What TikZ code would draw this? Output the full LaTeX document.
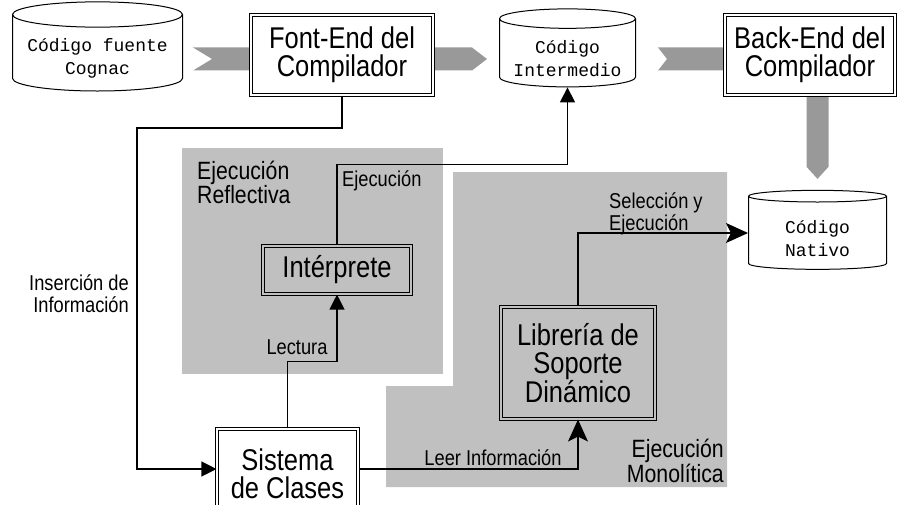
\documentclass[tikz,border=0pt]{standalone}
\usepackage{fontspec}
\setmainfont{Liberation Sans}[FakeStretch=0.85]
\newfontfamily\codefont{Liberation Mono}
\usetikzlibrary{
  arrows.meta,
  shapes.geometric,
  calc
}
\definecolor{zonegray}{RGB}{192,192,192}
\definecolor{flowgray}{RGB}{153,153,153}
\newcommand\topstrut{\rule{0pt}{24pt}}

\begin{document}
\begin{tikzpicture}[
  x=1pt, y=-1pt,
  every node/.style={inner sep=0pt},
  stage/.style={draw, double=white, fill=white, double distance=2pt, line width=1.1pt,
    align=center, font=\fontsize{30}{28}\selectfont},
  innerstage/.style={stage, fill=none, double=zonegray},
  store/.style={draw, cylinder, shape border rotate=90, aspect=0.18, line width=1pt,
    fill=white, align=center, font=\codefont\fontsize{18}{23}\selectfont},
  zone/.style={fill=zonegray},
  zonelbl/.style={align=left, font=\fontsize{25}{23}\selectfont},
  lbl/.style={align=left, font=\fontsize{21.5}{22}\selectfont},
  conn/.style={line width=1.2pt, -{Triangle[length=15pt, width=15pt]}},
  bigconn/.style={line width=1.2pt, -{Stealth[length=22pt, width=20pt, inset=5pt]}},
  flow/.style={fill=flowgray}
]
\useasboundingbox (0,0) rectangle (898,504);
\clip (0,0) rectangle (898,504);

% zonas de ejecucion
\fill[zone] (182,148) rectangle (443,374);
\fill[zone] (386,386) -- (453,386) -- (453,172) -- (727,172) -- (727,487) -- (386,487) -- cycle;

% nodos
\node[store, minimum width=170pt, minimum height=74pt] (srccode) at (97.5,53) {\topstrut Código fuente\\Cognac};
\node[store, minimum width=136pt, minimum height=78pt] (midcode) at (567.5,53) {\topstrut Código\\Intermedio};
\node[store, minimum width=138pt, minimum height=79pt] (natcode) at (817.5,233) {\topstrut Código\\Nativo};

% flechas anchas
\coordinate (f1s) at ($(srccode.east)+(10,6)$);
\coordinate (f1e) at ($(midcode.west)+(-12,6)$);
\fill[flow] ($(f1s)+(0,-11.5)$) -- ($(f1e)+(-15,-11.5)$) -- (f1e) -- ($(f1e)+(-15,11.5)$)
  -- ($(f1s)+(0,11.5)$) -- ($(f1s)+(19,0)$) -- cycle;
\coordinate (f2s) at ($(midcode.east)+(22,6)$);
\coordinate (f2e) at ($(f2s)+(90,0)$);
\fill[flow] ($(f2s)+(0,-11.5)$) -- ($(f2e)+(-15,-11.5)$) -- (f2e) -- ($(f2e)+(-15,11.5)$)
  -- ($(f2s)+(0,11.5)$) -- ($(f2s)+(9,0)$) -- cycle;
\coordinate (f3s) at ($(natcode.north)+(0,-150)$);
\coordinate (f3e) at ($(natcode.north)+(0,-11)$);
\fill[flow] ($(f3s)+(-11,0)$) -- ($(f3e)+(-11,-12)$) -- (f3e) -- ($(f3e)+(11,-12)$)
  -- ($(f3s)+(11,0)$) -- cycle;

\node[stage, minimum width=182pt, minimum height=80pt] (frontend) at (342,55) {Font-End del\\Compilador};
\node[stage, minimum width=170pt, minimum height=80pt] (backend) at (810,55) {Back-End del\\Compilador};
\node[innerstage, minimum width=148pt, minimum height=48pt] (interp) at (337,270) {Intérprete};
\node[innerstage, minimum width=154pt, minimum height=112pt] (libreria) at (578,363) {Librería de\\Soporte\\Dinámico};
\node[stage, minimum width=141pt, minimum height=90pt] (sistema) at (287.5,474) {Sistema\\de Clases};

% conexiones
\coordinate (insbend) at (137,128);
\draw[conn] (frontend.south) |- (insbend) |- ([yshift=5pt]sistema.west);
\draw[conn] (sistema.north) -- ++(0,-67) -| (interp.south);
\draw[conn] (interp.north) -- ++(0,-81) -| (midcode.south);
\draw[bigconn] ([yshift=5pt]sistema.east) -| (libreria.south);
\draw[bigconn] (libreria.north) |- (natcode.west);

% etiquetas
\node[lbl, anchor=east, align=right] (inslbl) at (129,294) {Inserción de\\Información};
\node[lbl, anchor=south] (lectlbl) at (297,355) {Lectura};
\node[lbl, anchor=north west] (ejelbl) at (342,170) {Ejecución};
\node[lbl, anchor=south] (leerlbl) at (493,466) {Leer Información};
\node[lbl, anchor=south west] (sellbl) at (609,235) {Selección y\\Ejecución};
\node[zonelbl, anchor=north west] (refllbl) at (197,161) {Ejecución\\Reflectiva};
\node[zonelbl, anchor=south east, align=right] (monolbl) at (724,483) {Ejecución\\Monolítica};

\end{tikzpicture}
\end{document}
